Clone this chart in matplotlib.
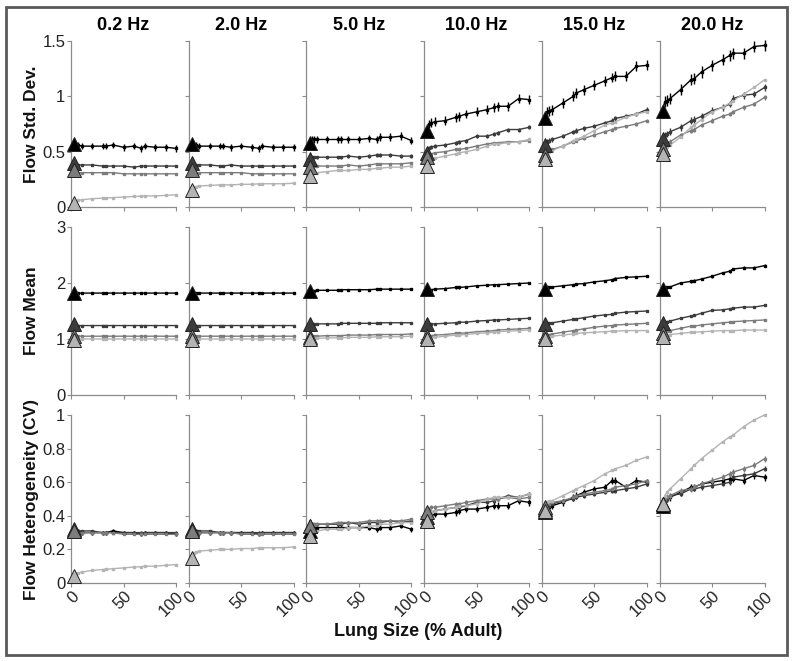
import matplotlib
matplotlib.use("Agg")
import matplotlib.pyplot as plt
from matplotlib.patches import Rectangle

plt.rcParams['font.family'] = ['Liberation Sans', 'DejaVu Sans']

# ---------------- data ----------------
freqs = ["0.2 Hz", "2.0 Hz", "5.0 Hz", "10.0 Hz", "15.0 Hz", "20.0 Hz"]
row_labels = ["Flow Std. Dev.", "Flow Mean", "Flow Heterogeneity (CV)"]
lung_size = [3, 5, 7, 10, 20, 30, 33, 40, 50, 60, 67, 70, 80, 90, 100]
x_ticks = [0, 50, 100]
x_ticklabels = ["0", "50", "100"]
sd_ticks = [0, 0.5, 1, 1.5]
sd_ticklabels = ["0", "0.5", "1", "1.5"]
mean_ticks = [0, 1, 2, 3]
mean_ticklabels = ["0", "1", "2", "3"]
cv_ticks = [0, 0.2, 0.4, 0.6, 0.8, 1.0]
cv_ticklabels = ["0", "0.2", "0.4", "0.6", "0.8", "1"]

# series order: black, dark gray, mid gray, light gray
sd_black = [
    [0.57,0.56,0.56,0.55,0.55,0.55,0.55,0.56,0.54,0.55,0.53,0.55,0.54,0.54,0.53],
    [0.57,0.56,0.56,0.55,0.55,0.55,0.55,0.54,0.55,0.54,0.53,0.55,0.54,0.54,0.54],
    [0.58,0.61,0.61,0.61,0.61,0.61,0.61,0.61,0.61,0.62,0.61,0.63,0.63,0.64,0.60],
    [0.69,0.75,0.76,0.77,0.78,0.81,0.82,0.84,0.86,0.88,0.90,0.91,0.91,0.98,0.97],
    [0.80,0.86,0.87,0.88,0.94,1.00,1.03,1.06,1.10,1.14,1.17,1.18,1.18,1.27,1.28],
    [0.87,0.95,0.96,0.98,1.06,1.15,1.16,1.22,1.28,1.33,1.37,1.39,1.39,1.45,1.46],
]
sd_dark = [
    [0.40,0.38,0.38,0.38,0.38,0.37,0.37,0.37,0.37,0.36,0.37,0.37,0.37,0.37,0.37],
    [0.40,0.38,0.38,0.38,0.38,0.37,0.37,0.38,0.37,0.37,0.37,0.37,0.37,0.37,0.37],
    [0.43,0.45,0.45,0.45,0.45,0.45,0.45,0.46,0.45,0.46,0.47,0.47,0.47,0.46,0.46],
    [0.49,0.53,0.54,0.55,0.56,0.58,0.59,0.60,0.64,0.64,0.66,0.67,0.70,0.70,0.72],
    [0.56,0.59,0.60,0.61,0.64,0.68,0.69,0.71,0.73,0.76,0.78,0.80,0.82,0.84,0.88],
    [0.61,0.65,0.66,0.68,0.72,0.78,0.79,0.82,0.87,0.90,0.93,0.98,1.01,1.02,1.08],
]
sd_mid = [
    [0.33,0.31,0.31,0.31,0.31,0.31,0.31,0.31,0.30,0.30,0.30,0.30,0.30,0.30,0.30],
    [0.33,0.31,0.31,0.31,0.31,0.31,0.31,0.31,0.31,0.30,0.30,0.30,0.30,0.30,0.30],
    [0.36,0.37,0.37,0.37,0.37,0.37,0.37,0.38,0.37,0.38,0.39,0.39,0.39,0.39,0.40],
    [0.45,0.47,0.48,0.49,0.50,0.52,0.52,0.53,0.55,0.57,0.58,0.58,0.59,0.59,0.60],
    [0.47,0.50,0.51,0.52,0.55,0.59,0.60,0.62,0.65,0.68,0.70,0.71,0.73,0.75,0.78],
    [0.52,0.57,0.58,0.59,0.65,0.69,0.70,0.74,0.78,0.82,0.84,0.86,0.90,0.93,0.99],
]
sd_light = [
    [0.04,0.055,0.06,0.065,0.075,0.08,0.082,0.085,0.09,0.095,0.097,0.10,0.10,0.105,0.11],
    [0.15,0.18,0.185,0.19,0.195,0.20,0.20,0.20,0.205,0.205,0.21,0.21,0.21,0.21,0.215],
    [0.28,0.31,0.31,0.31,0.32,0.33,0.33,0.33,0.34,0.34,0.35,0.35,0.36,0.36,0.37],
    [0.37,0.42,0.43,0.44,0.46,0.48,0.49,0.50,0.52,0.55,0.57,0.57,0.58,0.59,0.61],
    [0.43,0.49,0.50,0.51,0.55,0.60,0.61,0.64,0.69,0.74,0.76,0.77,0.81,0.84,0.86],
    [0.48,0.53,0.54,0.56,0.63,0.72,0.74,0.79,0.86,0.90,0.94,0.96,1.02,1.08,1.15],
]

mean_black = [
    [1.83,1.82,1.82,1.82,1.82,1.82,1.82,1.82,1.82,1.82,1.82,1.82,1.82,1.82,1.82],
    [1.83,1.82,1.82,1.82,1.82,1.82,1.82,1.82,1.82,1.82,1.82,1.82,1.82,1.82,1.82],
    [1.86,1.86,1.86,1.87,1.87,1.87,1.88,1.88,1.88,1.88,1.89,1.89,1.89,1.89,1.89],
    [1.89,1.88,1.88,1.89,1.90,1.92,1.92,1.93,1.95,1.96,1.97,1.97,1.98,1.99,2.00],
    [1.90,1.92,1.92,1.93,1.95,1.97,1.98,1.99,2.02,2.04,2.06,2.08,2.10,2.11,2.12],
    [1.90,1.91,1.92,1.93,2.00,2.03,2.04,2.07,2.12,2.18,2.21,2.25,2.27,2.27,2.31],
]
mean_dark = [
    [1.26,1.24,1.24,1.24,1.24,1.24,1.24,1.24,1.24,1.24,1.24,1.24,1.24,1.24,1.24],
    [1.26,1.24,1.24,1.24,1.24,1.24,1.24,1.24,1.24,1.24,1.24,1.24,1.24,1.24,1.24],
    [1.26,1.26,1.26,1.27,1.27,1.27,1.28,1.28,1.28,1.28,1.28,1.29,1.29,1.29,1.29],
    [1.27,1.26,1.27,1.27,1.28,1.29,1.30,1.30,1.32,1.33,1.34,1.34,1.35,1.36,1.37],
    [1.27,1.28,1.29,1.29,1.32,1.35,1.36,1.38,1.41,1.43,1.44,1.46,1.48,1.49,1.50],
    [1.28,1.30,1.31,1.32,1.37,1.41,1.42,1.46,1.51,1.52,1.54,1.55,1.57,1.57,1.60],
]
mean_mid = [
    [1.06,1.05,1.05,1.05,1.05,1.05,1.05,1.05,1.05,1.05,1.05,1.05,1.05,1.05,1.05],
    [1.06,1.05,1.05,1.05,1.05,1.05,1.05,1.05,1.05,1.05,1.05,1.05,1.05,1.05,1.05],
    [1.04,1.05,1.05,1.05,1.06,1.06,1.06,1.07,1.07,1.07,1.08,1.08,1.08,1.08,1.09],
    [1.05,1.06,1.06,1.07,1.08,1.10,1.10,1.11,1.13,1.14,1.15,1.16,1.17,1.18,1.19],
    [1.05,1.07,1.08,1.09,1.12,1.15,1.16,1.18,1.21,1.23,1.24,1.25,1.26,1.27,1.28],
    [1.10,1.13,1.14,1.15,1.19,1.23,1.23,1.25,1.27,1.29,1.30,1.31,1.32,1.33,1.34],
]
mean_light = [
    [0.98,1.00,1.00,1.00,1.00,1.00,1.00,1.00,1.00,1.00,1.00,1.00,1.00,1.00,1.00],
    [0.98,1.00,1.00,1.00,1.00,1.00,1.00,1.00,1.00,1.00,1.00,1.00,1.00,1.00,1.00],
    [1.00,1.01,1.01,1.01,1.02,1.02,1.02,1.03,1.03,1.03,1.04,1.04,1.04,1.04,1.05],
    [1.00,1.02,1.02,1.03,1.05,1.07,1.07,1.08,1.10,1.11,1.12,1.13,1.14,1.15,1.16],
    [1.00,1.03,1.04,1.05,1.07,1.09,1.10,1.11,1.12,1.13,1.14,1.14,1.15,1.15,1.15],
    [1.03,1.06,1.07,1.08,1.10,1.12,1.12,1.13,1.14,1.15,1.15,1.15,1.16,1.16,1.16],
]

cv_black = [
    [0.31,0.31,0.31,0.30,0.30,0.30,0.30,0.31,0.30,0.30,0.29,0.30,0.30,0.30,0.29],
    [0.31,0.31,0.31,0.30,0.30,0.30,0.30,0.30,0.30,0.30,0.29,0.30,0.30,0.30,0.30],
    [0.31,0.33,0.33,0.33,0.33,0.33,0.33,0.33,0.33,0.33,0.32,0.33,0.33,0.34,0.32],
    [0.37,0.40,0.40,0.41,0.41,0.42,0.43,0.44,0.44,0.45,0.46,0.46,0.46,0.49,0.48],
    [0.42,0.45,0.45,0.46,0.48,0.51,0.52,0.54,0.56,0.57,0.61,0.61,0.57,0.61,0.60],
    [0.46,0.50,0.50,0.51,0.54,0.57,0.57,0.59,0.60,0.61,0.62,0.62,0.61,0.64,0.63],
]
cv_dark = [
    [0.32,0.31,0.31,0.31,0.31,0.30,0.30,0.30,0.30,0.30,0.30,0.30,0.30,0.30,0.30],
    [0.32,0.31,0.31,0.31,0.31,0.30,0.30,0.30,0.30,0.30,0.30,0.30,0.30,0.30,0.30],
    [0.34,0.35,0.35,0.35,0.35,0.35,0.35,0.36,0.35,0.36,0.36,0.36,0.37,0.36,0.37],
    [0.39,0.42,0.42,0.43,0.44,0.45,0.45,0.46,0.48,0.48,0.49,0.50,0.52,0.51,0.53],
    [0.44,0.46,0.46,0.47,0.49,0.50,0.51,0.52,0.53,0.54,0.55,0.55,0.56,0.57,0.59],
    [0.47,0.50,0.50,0.52,0.53,0.56,0.56,0.57,0.58,0.59,0.60,0.63,0.64,0.65,0.68],
]
cv_mid = [
    [0.31,0.30,0.30,0.30,0.30,0.30,0.30,0.30,0.29,0.29,0.29,0.29,0.29,0.29,0.29],
    [0.31,0.30,0.30,0.30,0.30,0.30,0.30,0.30,0.29,0.29,0.29,0.29,0.29,0.29,0.29],
    [0.34,0.35,0.35,0.35,0.35,0.36,0.36,0.36,0.36,0.37,0.37,0.37,0.37,0.37,0.38],
    [0.42,0.44,0.45,0.45,0.46,0.47,0.47,0.48,0.49,0.50,0.50,0.50,0.51,0.50,0.51],
    [0.45,0.47,0.47,0.48,0.49,0.51,0.52,0.53,0.54,0.55,0.56,0.57,0.58,0.59,0.61],
    [0.47,0.50,0.51,0.52,0.55,0.56,0.57,0.59,0.61,0.63,0.65,0.66,0.68,0.70,0.74],
]
cv_light = [
    [0.04,0.055,0.06,0.065,0.075,0.08,0.082,0.085,0.09,0.095,0.097,0.10,0.10,0.105,0.11],
    [0.15,0.18,0.185,0.19,0.195,0.20,0.20,0.20,0.205,0.205,0.21,0.21,0.21,0.21,0.215],
    [0.28,0.31,0.31,0.31,0.32,0.32,0.32,0.33,0.33,0.34,0.34,0.35,0.35,0.36,0.36],
    [0.37,0.41,0.42,0.43,0.44,0.45,0.46,0.46,0.47,0.50,0.51,0.51,0.51,0.51,0.53],
    [0.43,0.48,0.49,0.49,0.52,0.55,0.56,0.58,0.61,0.65,0.67,0.68,0.70,0.73,0.75],
    [0.47,0.52,0.54,0.56,0.62,0.68,0.70,0.74,0.79,0.84,0.87,0.88,0.93,0.97,1.00],
]

# error bar half-lengths per frequency column
sd_err = [[0.03,0.03,0.035,0.04,0.045,0.05],
          [0.012,0.012,0.015,0.018,0.02,0.03],
          [0.006,0.006,0.008,0.01,0.015,0.02],
          [0.003,0.003,0.004,0.005,0.006,0.008]]
mean_err = [[0.015,0.015,0.015,0.02,0.02,0.025],
            [0.008,0.008,0.008,0.01,0.01,0.01],
            [0.005,0.005,0.005,0.006,0.006,0.006],
            [0.003,0.003,0.003,0.004,0.004,0.004]]
cv_err = [[0.012,0.012,0.015,0.02,0.02,0.02],
          [0.008,0.008,0.01,0.012,0.012,0.015],
          [0.006,0.006,0.008,0.012,0.012,0.018],
          [0.003,0.003,0.003,0.004,0.004,0.004]]

series_colors = ["#000000", "#3c3c3c", "#7c7c7c", "#b4b4b4"]

rows = [
    ([sd_black, sd_dark, sd_mid, sd_light], sd_err, (0, 1.5), sd_ticks, sd_ticklabels),
    ([mean_black, mean_dark, mean_mid, mean_light], mean_err, (0, 3), mean_ticks, mean_ticklabels),
    ([cv_black, cv_dark, cv_mid, cv_light], cv_err, (0, 1.0), cv_ticks, cv_ticklabels),
]

# ---------------- figure ----------------
W, H = 796, 661
fig = plt.figure(figsize=(W / 100, H / 100), dpi=100)
fig.patches.append(Rectangle((6 / W, 6 / H), 781 / W, 648 / H, transform=fig.transFigure,
                             fill=False, edgecolor="#5a5a5a", linewidth=2))

col_left = [71 + i * 117.7 for i in range(6)]
col_w = 105
row_top = [41, 227, 415]
row_h = [166, 168, 168]
spine_col = "#8c8c8c"

for r, (series, errs, ylim, yt, ytl) in enumerate(rows):
    for c in range(6):
        ax = fig.add_axes([col_left[c] / W, (H - row_top[r] - row_h[r]) / H, col_w / W, row_h[r] / H])
        ax.set_xlim(0, 100)
        ax.set_ylim(*ylim)
        for s in ["top", "right"]:
            ax.spines[s].set_visible(False)
        for s in ["left", "bottom"]:
            ax.spines[s].set_color(spine_col)
            ax.spines[s].set_linewidth(0.9)
        ax.set_yticks(yt)
        ax.set_xticks(x_ticks)
        ax.tick_params(axis="both", colors=spine_col, length=3, width=0.8, direction="out",
                       labelcolor="#222222", labelsize=12, pad=1)
        if c == 0:
            ax.set_yticklabels(ytl)
        else:
            ax.set_yticklabels([])
        if r == 2:
            ax.set_xticklabels(x_ticklabels, rotation=45, ha="right", rotation_mode="anchor",
                               fontsize=12)
        else:
            ax.set_xticklabels([])

        for k in [3, 2, 1, 0]:
            y = series[k][c]
            col = series_colors[k]
            ax.plot(lung_size, y, color=col, lw=1.0, zorder=2 + k * 0.1, clip_on=False)
            ax.errorbar(lung_size[1:], y[1:], yerr=errs[k][c], fmt="s", ms=1.6, color=col,
                        ecolor=col, elinewidth=1.0, capsize=0, zorder=2.5 + k * 0.1, clip_on=False)
        for k in [3, 2, 1, 0]:
            y = series[k][c]
            ax.plot([lung_size[0]], [y[0]], marker="^", ms=10, mfc=series_colors[k],
                    mec="#222222", mew=0.7, ls="none", zorder=4 + k * 0.1, clip_on=False)

        if r == 0:
            ax.set_title(freqs[c], fontsize=13, fontweight="bold", pad=8)

# row labels
for r in range(3):
    yc = (H - row_top[r] - row_h[r] / 2) / H
    fig.text(32 / W, yc, row_labels[r], rotation=90, ha="center", va="center",
             fontsize=12.5, fontweight="bold", color="#111111")

fig.text(418 / W, (H - 632) / H, "Lung Size (% Adult)", ha="center", va="center",
         fontsize=13, fontweight="bold", color="#111111")

fig.savefig("out.png", dpi=100)
